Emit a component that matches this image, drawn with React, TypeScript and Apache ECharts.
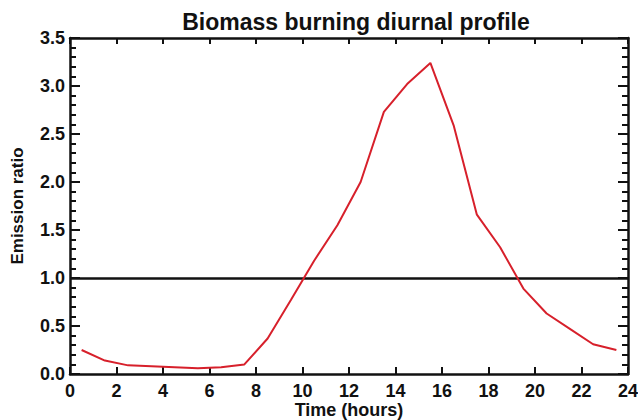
import React, { useEffect, useRef } from "react";
import * as echarts from "echarts";

const hours = [0.5, 1.5, 2.5, 3.5, 4.5, 5.5, 6.5, 7.5, 8.5, 9.5, 10.5, 11.5, 12.5, 13.5, 14.5, 15.5, 16.5, 17.5, 18.5, 19.5, 20.5, 21.5, 22.5, 23.5];
const emission = [0.25, 0.14, 0.09, 0.08, 0.07, 0.06, 0.07, 0.10, 0.37, 0.77, 1.18, 1.55, 2.0, 2.73, 3.02, 3.24, 2.59, 1.66, 1.32, 0.89, 0.63, 0.47, 0.31, 0.25];
const referenceLevel = 1.0;
const titleText = "Biomass burning diurnal profile";
const xName = "Time (hours)";
const yName = "Emission ratio";

const FONT = "'Liberation Sans', Arial, Helvetica, sans-serif";
const AXIS_COLOR = "#111";

export default function App() {
  const ref = useRef<HTMLDivElement>(null);
  useEffect(() => {
    document.body.style.margin = "0";
    if (!ref.current) return;
    const chart = echarts.init(ref.current, undefined, { renderer: "svg" });
    const axisLine = { show: true, onZero: false, lineStyle: { color: AXIS_COLOR, width: 2.5 } };
    chart.setOption({
      animation: false,
      backgroundColor: "#fff",
      title: {
        text: titleText,
        left: 351,
        textAlign: "center",
        top: 5,
        textStyle: { fontFamily: FONT, fontWeight: "bold", fontSize: 23, color: "#111" },
      },
      grid: { left: 70, right: 10, top: 38, bottom: 46, containLabel: false, outerBoundsMode: "none" },
      xAxis: [
        {
          type: "value",
          position: "bottom",
          min: 0,
          max: 24,
          interval: 2,
          name: xName,
          nameLocation: "middle",
          nameGap: 27,
          nameMoveOverlap: false,
          nameTextStyle: { fontFamily: FONT, fontWeight: "bold", fontSize: 18, color: "#111", lineHeight: 18 },
          axisLine,
          axisTick: { show: true, inside: true, length: 7, lineStyle: { color: AXIS_COLOR, width: 2 } },
          axisLabel: { margin: 8, fontFamily: FONT, fontWeight: "bold", fontSize: 18, color: "#111" },
          splitLine: { show: false },
        },
        {
          type: "value",
          position: "top",
          min: 0,
          max: 24,
          interval: 2,
          axisLine,
          axisTick: { show: true, inside: true, length: 6, lineStyle: { color: AXIS_COLOR, width: 2 } },
          axisLabel: { show: false },
          splitLine: { show: false },
        },
      ],
      yAxis: [
        {
          type: "value",
          position: "left",
          min: 0,
          max: 3.5,
          interval: 0.5,
          name: yName,
          nameLocation: "middle",
          nameGap: 44,
          nameRotate: 90,
          nameMoveOverlap: false,
          nameTextStyle: { fontFamily: FONT, fontWeight: "bold", fontSize: 17, color: "#111" },
          axisLine,
          axisTick: { show: true, inside: true, length: 10, lineStyle: { color: AXIS_COLOR, width: 2 } },
          minorTick: { show: true, splitNumber: 5, length: 6, lineStyle: { color: AXIS_COLOR, width: 2 } },
          axisLabel: {
            margin: 5,
            fontFamily: FONT,
            fontWeight: "bold",
            fontSize: 18,
            color: "#111",
            formatter: (v: number) => v.toFixed(1),
          },
          splitLine: { show: false },
          minorSplitLine: { show: false },
        },
        {
          type: "value",
          position: "right",
          min: 0,
          max: 3.5,
          interval: 0.5,
          axisLine,
          axisTick: { show: true, inside: true, length: 10, lineStyle: { color: AXIS_COLOR, width: 2 } },
          minorTick: { show: true, splitNumber: 5, length: 6, lineStyle: { color: AXIS_COLOR, width: 2 } },
          axisLabel: { show: false },
          splitLine: { show: false },
          minorSplitLine: { show: false },
        },
      ],
      series: [
        {
          type: "line",
          xAxisIndex: 0,
          yAxisIndex: 0,
          data: hours.map((h, i) => [h, emission[i]]),
          showSymbol: false,
          symbol: "none",
          lineStyle: { color: "#d7202b", width: 2 },
          z: 3,
          markLine: {
            silent: true,
            symbol: "none",
            label: { show: false },
            lineStyle: { color: "#111", width: 2.5, type: "solid" },
            data: [{ yAxis: referenceLevel }],
            z: 2,
          },
        },
      ],
    });
    return () => chart.dispose();
  }, []);
  return <div ref={ref} style={{ width: 638, height: 420 }} />;
}
